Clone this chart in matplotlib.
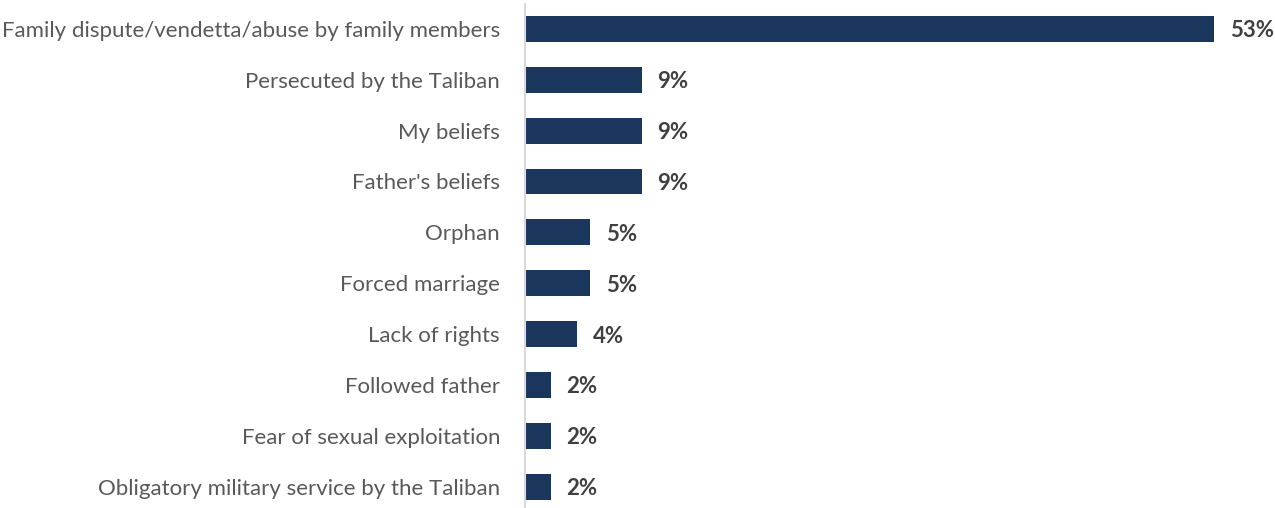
import matplotlib
matplotlib.use("Agg")
import matplotlib.pyplot as plt

# reasons given, top to bottom
categories = [
    "Family dispute/vendetta/abuse by family members",
    "Persecuted by the Taliban",
    "My beliefs",
    "Father's beliefs",
    "Orphan",
    "Forced marriage",
    "Lack of rights",
    "Followed father",
    "Fear of sexual exploitation",
    "Obligatory military service by the Taliban",
]
shares = [53, 9, 9, 9, 5, 5, 4, 2, 2, 2]

bar_color = "#1b365d"
label_color = "#595959"
value_color = "#404040"

plt.rcParams["font.family"] = ["Lato", "DejaVu Sans"]

fig = plt.figure(figsize=(12.75, 5.08), dpi=100)
ax = fig.add_axes([525 / 1275, 0, 750 / 1275, 504 / 508])

ypos = list(range(len(categories)))
ax.barh(ypos, shares, height=0.51, color=bar_color)
for y, v in zip(ypos, shares):
    ax.text(v + 1.2, y + 0.04, f"{v}%", va="center", ha="left",
            fontsize=16, fontweight="bold", color=value_color)

ax.set_xlim(0, 750 / 13)
ax.set_ylim(9.42, -0.49)
ax.set_yticks(ypos)
ax.set_yticklabels(categories, fontsize=16, color=label_color)
ax.tick_params(axis="y", length=0, pad=18)
ax.set_xticks([])

for side in ["top", "right", "bottom"]:
    ax.spines[side].set_visible(False)
ax.spines["left"].set_color("#d9d9d9")
ax.spines["left"].set_linewidth(1.5)

fig.savefig("out.png", dpi=100)
